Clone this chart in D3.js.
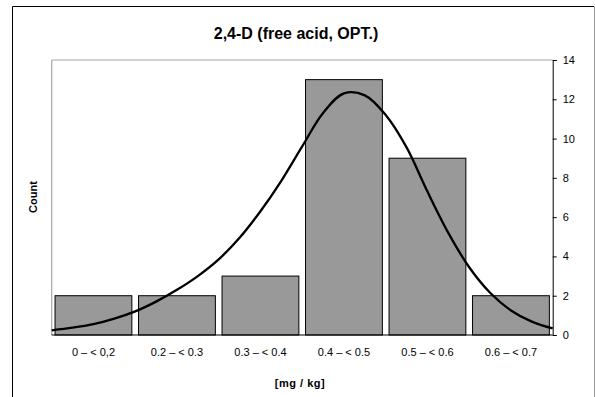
<!DOCTYPE html>
<html>
<head>
<meta charset="utf-8">
<script src="https://cdn.jsdelivr.net/npm/d3@7"></script>
<style>
html,body{margin:0;padding:0;background:#fff;}
svg{display:block;font-family:"Liberation Sans",Arial,sans-serif;}
</style>
</head>
<body>
<svg id="chart" width="595" height="397"></svg>
<script>
const categories = ["0 – < 0,2","0.2 – < 0.3","0.3 – < 0.4","0.4 – < 0.5","0.5 – < 0.6","0.6 – < 0.7"];
const counts = [2, 2, 3, 13, 9, 2];
const yTicks = [0, 2, 4, 6, 8, 10, 12, 14];
// fitted density curve, position in category units (0 = left edge, 6 = right edge)
const curveX = [0,0.25,0.5,0.75,1,1.25,1.5,1.75,2,2.25,2.5,2.75,3,3.25,3.5,3.75,4,4.25,4.5,4.75,5,5.25,5.5,5.75,6];
const curveY = [0.24,0.37,0.55,0.83,1.2,1.7,2.3,3.0,3.85,4.95,6.3,7.85,9.6,11.3,12.3,12.2,11.2,9.55,7.3,5.2,3.45,2.15,1.25,0.68,0.34];

const svg = d3.select("#chart");
const L = 51.7, R = 552.7, T = 60, B = 335;

// outer frame
svg.append("line").attr("x1",12.5).attr("x2",12.5).attr("y1",6.5).attr("y2",397).attr("stroke","#000");
svg.append("line").attr("x1",12.5).attr("x2",594).attr("y1",6.5).attr("y2",6.5).attr("stroke","#000");
svg.append("line").attr("x1",594.5).attr("x2",594.5).attr("y1",6.5).attr("y2",397).attr("stroke","#999");

const x = d3.scaleBand().domain(categories).range([L, R]).paddingInner(0.08).paddingOuter(0.04);
const xc = d3.scaleLinear().domain([0, 6]).range([L, R]);
const y = d3.scaleLinear().domain([0, 14]).range([B, T]);

// plot area border (grey left/top)
svg.append("line").attr("x1",L).attr("x2",L).attr("y1",T).attr("y2",B).attr("stroke","#a6a6a6").attr("stroke-width",1.2);
svg.append("line").attr("x1",L).attr("x2",R).attr("y1",T).attr("y2",T).attr("stroke","#a6a6a6").attr("stroke-width",1.2);

// bars
svg.append("g").selectAll("rect").data(counts).join("rect")
  .attr("x",(d,i)=>x(categories[i]))
  .attr("y",d=>y(d))
  .attr("width",x.bandwidth())
  .attr("height",d=>y(0)-y(d))
  .attr("fill","#999999")
  .attr("stroke","#000")
  .attr("stroke-width",1);

// curve
const pts = curveX.map((v,i)=>[v, curveY[i]]);
svg.append("path").datum(pts)
  .attr("d", d3.line().x(d=>xc(d[0])).y(d=>y(d[1])).curve(d3.curveCatmullRom.alpha(0.5)))
  .attr("fill","none").attr("stroke","#000").attr("stroke-width",2.3);

// right axis
const ra = svg.append("g").attr("transform",`translate(${R},0)`)
  .call(d3.axisRight(y).tickValues(yTicks).tickSize(4).tickPadding(6).tickFormat(d3.format("d")));
ra.select(".domain").attr("stroke","#000");
ra.selectAll("text").attr("font-size",11).attr("font-family","Liberation Sans, Arial, sans-serif").attr("fill","#000");

// bottom axis
const ba = svg.append("g").attr("transform",`translate(0,${B})`)
  .call(d3.axisBottom(x).tickSize(0).tickPadding(13));
ba.select(".domain").attr("d",`M${L},0H${R}`).attr("stroke","#000");
ba.selectAll("text").attr("font-size",11).attr("font-family","Liberation Sans, Arial, sans-serif").attr("fill","#000");

// title & labels
svg.append("text").attr("x",296).attr("y",39).attr("text-anchor","middle")
  .attr("font-size",16).attr("font-weight","bold").text("2,4-D (free acid, OPT.)");
svg.append("text").attr("x",300).attr("y",387).attr("text-anchor","middle")
  .attr("font-size",11).attr("font-weight","bold").attr("letter-spacing",0.5).text("[mg / kg]");
svg.append("text").attr("transform","translate(37,197) rotate(-90)").attr("text-anchor","middle")
  .attr("font-size",11).attr("font-weight","bold").text("Count");
</script>
</body>
</html>
